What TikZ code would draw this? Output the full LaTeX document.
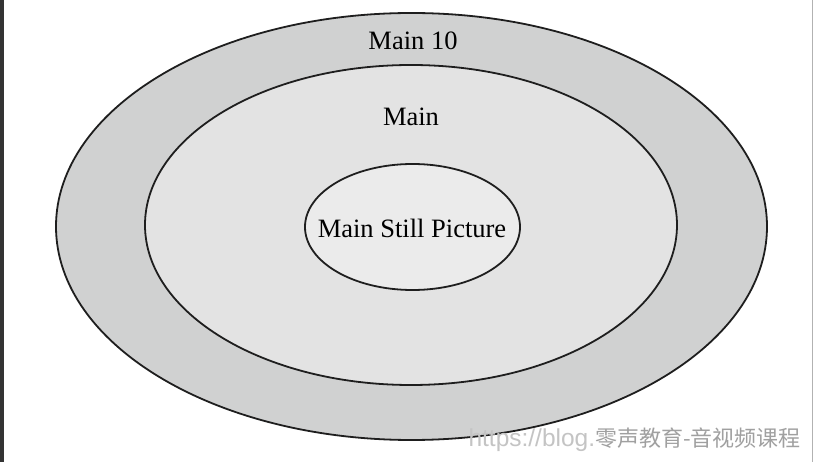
\documentclass[tikz,border=0pt]{standalone}
\usepackage{fontspec}
\setmainfont{Liberation Serif}
\newfontfamily\cjkfont{Noto Sans CJK SC}
\newfontfamily\wmfont{Liberation Sans}
\usetikzlibrary{shapes.geometric}
\definecolor{outerfill}{HTML}{D0D1D1}
\definecolor{midfill}{HTML}{E3E3E3}
\definecolor{innerfill}{HTML}{EBEBEB}
\definecolor{edgecol}{HTML}{1E1E1E}
\definecolor{wmgrey}{HTML}{C4C4C4}
\definecolor{wmdark}{HTML}{A0A0A0}
\tikzset{
  ring/.style={ellipse, draw=edgecol, line width=1.8pt, inner sep=0pt},
  lbl/.style={font=\fontsize{26.5}{30}\selectfont, text=black, inner sep=0pt},
}
\begin{document}
\begin{tikzpicture}[x=1pt,y=-1pt]
\useasboundingbox (0,0) rectangle (815,462);
\fill[white] (0,0) rectangle (815,462);
\fill[black!80] (0,0) rectangle (4,462);
\draw[black!30, line width=0.8pt] (812.5,0) -- (812.5,462);
\node[ring, fill=outerfill, minimum width=711pt, minimum height=427pt] (outer) at (411.5,226.5) {};
\node[ring, fill=midfill, minimum width=532pt, minimum height=320pt] (mid) at (411,225) {};
\node[ring, fill=innerfill, minimum width=215pt, minimum height=126pt] (inner) at (412.5,227) {};
\node[lbl] (tinner) at (412,228) {Main Still Picture};
\node[lbl] (tmid) at (411,117) {Main};
\node[lbl] (touter) at (413,41) {Main 10};
\node[anchor=east, inner sep=0pt] (wm) at (801,440) {\wmfont\fontsize{24.5}{28}\selectfont\textcolor{wmgrey}{https://blog.}\cjkfont\fontsize{22}{26}\selectfont\textcolor{wmdark}{零声教育-音视频课程}};
\end{tikzpicture}
\end{document}
